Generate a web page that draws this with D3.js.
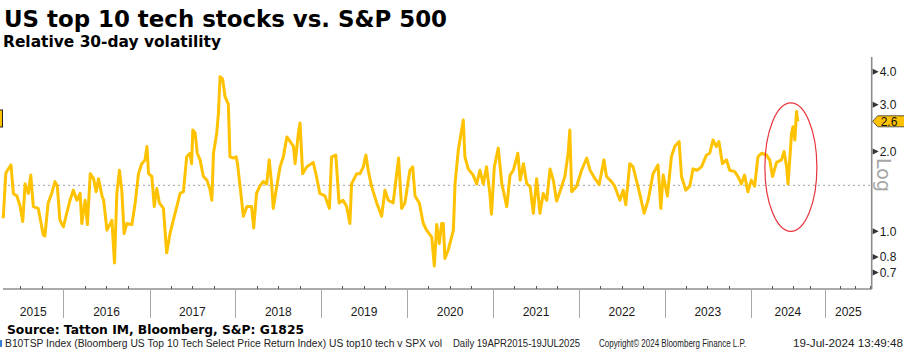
<!DOCTYPE html>
<html>
<head>
<meta charset="utf-8">
<script src="https://cdn.jsdelivr.net/npm/d3@7"></script>
<style>
  html, body { margin: 0; padding: 0; background: #fff; }
  svg { display: block; }
</style>
</head>
<body>
<div id="chart"></div>
<script>
const dates = [
  "2015-04-20","2015-05-01","2015-05-23","2015-06-02","2015-06-17","2015-07-01","2015-07-12","2015-07-22","2015-08-05","2015-08-15",
  "2015-08-26","2015-09-16","2015-10-07","2015-10-14","2015-10-28","2015-11-12","2015-11-26","2015-12-06","2015-12-17","2016-01-01",
  "2016-01-15","2016-01-29","2016-02-12","2016-02-27","2016-03-12","2016-03-19","2016-04-02","2016-04-12","2016-04-24","2016-05-08",
  "2016-05-19","2016-05-29","2016-06-13","2016-06-20","2016-07-04","2016-07-25","2016-08-05","2016-08-15","2016-08-26","2016-09-05",
  "2016-09-15","2016-09-26","2016-10-18","2016-11-01","2016-11-15","2016-11-29","2016-12-13","2016-12-21","2016-12-28","2017-01-11",
  "2017-01-21","2017-02-01","2017-02-12","2017-03-01","2017-03-15","2017-03-29","2017-04-12","2017-04-27","2017-05-11","2017-05-25",
  "2017-06-08","2017-06-22","2017-06-29","2017-07-04","2017-07-14","2017-07-23","2017-08-04","2017-08-18","2017-09-02","2017-09-16",
  "2017-09-23","2017-09-30","2017-10-14","2017-10-21","2017-10-28","2017-11-08","2017-11-18","2017-12-02","2017-12-09","2017-12-23",
  "2018-01-04","2018-01-10","2018-01-21","2018-02-04","2018-02-19","2018-03-11","2018-03-20","2018-04-01","2018-04-15","2018-04-29",
  "2018-05-14","2018-05-25","2018-06-04","2018-06-11","2018-06-26","2018-07-10","2018-07-24","2018-08-08","2018-08-22","2018-09-05",
  "2018-09-12","2018-09-26","2018-10-03","2018-10-14","2018-10-31","2018-11-28","2018-12-12","2018-12-26","2019-01-17","2019-02-05",
  "2019-02-14","2019-03-04","2019-03-18","2019-04-04","2019-04-19","2019-05-03","2019-05-10","2019-06-01","2019-06-15","2019-06-29",
  "2019-07-10","2019-07-20","2019-08-03","2019-08-25","2019-09-15","2019-09-29","2019-10-13","2019-11-03","2019-11-18","2019-11-26",
  "2019-12-09","2019-12-23","2020-01-13","2020-01-25","2020-02-04","2020-02-22","2020-03-10","2020-03-24","2020-04-15","2020-04-26",
  "2020-05-06","2020-05-17","2020-05-27","2020-06-03","2020-06-10","2020-06-24","2020-07-16","2020-07-23","2020-08-06","2020-08-20",
  "2020-08-27","2020-09-03","2020-09-17","2020-10-08","2020-10-23","2020-11-06","2020-11-20","2020-12-04","2020-12-18","2020-12-25",
  "2021-01-06","2021-01-23","2021-02-07","2021-02-28","2021-03-14","2021-03-28","2021-04-16","2021-04-26","2021-05-10","2021-05-24",
  "2021-06-07","2021-06-21","2021-07-05","2021-07-19","2021-08-02","2021-08-17","2021-08-31","2021-09-14","2021-09-28","2021-10-12",
  "2021-11-02","2021-11-16","2021-11-23","2021-12-01","2021-12-22","2022-01-12","2022-02-03","2022-02-17","2022-03-10","2022-03-28",
  "2022-04-17","2022-04-28","2022-05-19","2022-06-02","2022-06-24","2022-07-08","2022-07-19","2022-08-05","2022-08-19","2022-09-02",
  "2022-09-16","2022-10-05","2022-10-22","2022-11-12","2022-12-03","2022-12-15","2022-12-25","2023-01-12","2023-01-29","2023-02-12",
  "2023-03-03","2023-03-13","2023-03-31","2023-04-17","2023-05-01","2023-05-18","2023-06-06","2023-06-27","2023-07-11","2023-07-25",
  "2023-08-08","2023-08-19","2023-09-03","2023-09-20","2023-10-04","2023-10-25","2023-11-08","2023-11-23","2023-12-06","2023-12-20",
  "2024-01-04","2024-01-18","2024-02-01","2024-02-16","2024-03-08","2024-03-22","2024-04-03","2024-04-20","2024-05-11","2024-05-22",
  "2024-06-02","2024-06-08","2024-06-23","2024-06-29","2024-07-07","2024-07-14","2024-07-19"
];

const relVol = [
  1.12,1.66,1.78,1.39,1.36,1.24,1.09,1.51,1.39,1.63,
  1.24,1.22,0.97,0.96,1.28,1.39,1.54,1.48,1.10,1.04,
  1.17,1.31,1.43,1.31,1.39,1.07,1.31,1.06,1.65,1.58,
  1.41,1.58,1.36,1.31,1.01,1.10,0.76,1.39,1.70,1.43,
  0.98,1.07,1.06,1.28,1.65,1.80,1.86,2.09,1.65,1.61,
  1.24,1.45,1.28,1.22,0.83,0.98,1.10,1.24,1.39,1.41,
  1.91,1.97,1.80,2.41,2.35,1.97,1.86,1.61,1.56,1.43,
  1.31,1.97,2.35,2.79,3.83,3.75,3.22,3.02,1.91,1.89,
  1.91,1.80,1.48,1.14,1.24,1.24,1.03,1.39,1.48,1.54,
  1.51,1.86,1.51,1.22,1.48,1.75,1.91,2.27,2.18,2.09,
  1.80,2.35,2.56,1.65,1.75,1.82,1.61,1.39,1.36,1.22,
  1.91,1.94,1.28,1.31,1.24,1.07,1.51,1.65,1.65,1.75,
  1.94,1.70,1.48,1.28,1.14,1.43,1.31,1.28,1.65,1.89,
  1.22,1.28,1.70,1.75,1.36,1.28,1.07,1.01,0.95,0.74,
  1.06,0.90,1.07,1.07,0.79,0.85,1.01,1.51,2.03,2.41,
  2.63,1.91,1.72,1.63,1.51,1.70,1.51,1.75,1.39,1.16,
  1.75,2.06,1.51,1.24,1.63,1.70,1.97,1.56,1.80,1.51,
  1.48,1.17,1.58,1.17,1.39,1.31,1.72,1.56,1.30,1.41,
  1.61,1.97,2.41,1.41,1.48,1.70,1.89,1.70,1.58,1.50,
  1.86,1.61,1.54,1.48,1.31,1.43,1.26,1.80,1.75,1.56,
  1.39,1.17,1.31,1.65,1.78,1.22,1.63,1.36,1.91,2.09,
  2.18,1.61,1.43,1.48,1.72,1.70,1.75,1.94,1.97,2.21,
  2.09,2.18,1.80,1.86,1.70,1.68,1.61,1.51,1.63,1.41,
  1.56,1.48,1.91,1.97,1.94,1.86,1.61,1.82,1.86,2.00,
  1.75,1.51,2.35,2.48,2.21,2.83,2.60
];

const yTicks = [0.7, 0.8, 1.0, 2.0, 3.0, 4.0];
const years = [2015, 2016, 2017, 2018, 2019, 2020, 2021, 2022, 2023, 2024, 2025];
const meanLevel = 1.49;
const lastValue = 2.6;

const title = "US top 10 tech stocks vs. S&P 500";
const subtitle = "Relative 30-day volatility";
const source = "Source: Tatton IM, Bloomberg, S&P: G1825";
const footer = [
  "B10TSP Index (Bloomberg US Top 10 Tech Select Price Return Index) US top10 tech v SPX vol",
  "Daily 19APR2015-19JUL2025",
  "Copyright\u00a9 2024 Bloomberg Finance L.P.",
  "19-Jul-2024 13:49:48"
];

const width = 904, height = 352;
const parse = d3.timeParse("%Y-%m-%d");
const data = dates.map((d, i) => ({ date: parse(d), value: relVol[i] }));

const svg = d3.select("#chart").append("svg")
  .attr("width", width).attr("height", height)
  .attr("viewBox", `0 0 ${width} ${height}`);

// Bloomberg compresses the empty future stretch after the last data point
const x = d3.scaleTime()
  .domain([parse("2015-04-19"), parse("2024-07-19"), parse("2025-10-12")])
  .range([3, 797.7, 871.7]);

const y = d3.scaleLog()
  .domain([0.606, 4.545])
  .range([289, 57]);

const axisX = 871.7, baseY = 289;
const gold = "#ffc200";

// mean dotted line
svg.append("line")
  .attr("x1", 3).attr("x2", axisX)
  .attr("y1", y(meanLevel)).attr("y2", y(meanLevel))
  .attr("stroke", "#b4b4b4").attr("stroke-width", 1.3)
  .attr("stroke-dasharray", "2,3");

// series
svg.append("path")
  .datum(data)
  .attr("fill", "none")
  .attr("stroke", gold)
  .attr("stroke-width", 3)
  .attr("stroke-linejoin", "round")
  .attr("d", d3.line().x(d => x(d.date)).y(d => y(d.value)));

// red ellipse annotation
const ex = x(parse("2024-06-20"));
svg.append("ellipse")
  .attr("cx", ex)
  .attr("cy", (y(1.0) + y(3.05)) / 2)
  .attr("rx", 26)
  .attr("ry", (y(1.0) - y(3.05)) / 2)
  .attr("fill", "none")
  .attr("stroke", "#e8343c")
  .attr("stroke-width", 1.2);

// x axis
svg.append("line")
  .attr("x1", 3).attr("x2", axisX)
  .attr("y1", baseY).attr("y2", baseY)
  .attr("stroke", "#555").attr("stroke-width", 1);

const [d0, d1] = [x.domain()[0], x.domain()[2]];
const quarters = d3.timeMonth.every(3).range(d0, d1).filter(d => d.getMonth() !== 0);
svg.append("g").selectAll("line")
  .data(quarters)
  .join("line")
  .attr("x1", d => Math.round(x(d)) + 0.5).attr("x2", d => Math.round(x(d)) + 0.5)
  .attr("y1", baseY - 3).attr("y2", baseY)
  .attr("stroke", "#555");

const yearStarts = years.map(yr => new Date(yr, 0, 1));
svg.append("g").selectAll("line")
  .data(yearStarts.filter(d => d > d0))
  .join("line")
  .attr("x1", d => Math.round(x(d)) + 0.5).attr("x2", d => Math.round(x(d)) + 0.5)
  .attr("y1", baseY).attr("y2", 318)
  .attr("stroke", "#a8a8a8");

svg.append("g").selectAll("text")
  .data(years)
  .join("text")
  .attr("x", yr => {
    const a = Math.max(x(new Date(yr, 0, 1)), x.range()[0]);
    const b = Math.min(x(new Date(yr + 1, 0, 1)), axisX);
    return (a + b) / 2;
  })
  .attr("y", 316)
  .attr("text-anchor", "middle")
  .attr("font-family", "Liberation Sans, Arial, sans-serif")
  .attr("font-size", 12)
  .attr("fill", "#1a1a1a")
  .text(d => d);

// right y axis
svg.append("line")
  .attr("x1", axisX).attr("x2", axisX)
  .attr("y1", 57).attr("y2", baseY)
  .attr("stroke", "#8c8c8c").attr("stroke-width", 1.6);

const yt = svg.append("g").selectAll("g")
  .data(yTicks)
  .join("g")
  .attr("transform", d => `translate(${axisX},${y(d)})`);
yt.append("path")
  .attr("d", "M1,-3L7,0L1,3Z")
  .attr("fill", "#333");
yt.append("text")
  .attr("x", 8)
  .attr("dy", "0.36em")
  .attr("font-family", "Liberation Sans, Arial, sans-serif")
  .attr("font-size", 12)
  .attr("fill", "#1a1a1a")
  .text(d => d3.format(".1f")(d));

// "Log" label
svg.append("text")
  .attr("transform", `translate(884,175) rotate(90)`)
  .attr("text-anchor", "middle")
  .attr("dy", "0.35em")
  .attr("font-family", "DejaVu Sans, sans-serif")
  .attr("font-size", 19)
  .attr("fill", "#a6a6a6")
  .text("Log");

// last value tag
const ly = y(lastValue);
svg.append("path")
  .attr("d", `M${axisX + 1},${ly} L${axisX + 6},${ly - 5.5} L${width + 2},${ly - 5.5} L${width + 2},${ly + 5.5} L${axisX + 6},${ly + 5.5} Z`)
  .attr("fill", gold)
  .attr("stroke", "#333")
  .attr("stroke-width", 0.8);
svg.append("text")
  .attr("x", axisX + 9).attr("y", ly)
  .attr("dy", "0.36em")
  .attr("font-family", "Liberation Sans, Arial, sans-serif")
  .attr("font-size", 12)
  .attr("fill", "#111")
  .text(d3.format(".1f")(lastValue));

// cut-off legend marks at the left edge
svg.append("rect")
  .attr("x", -2).attr("y", 110).attr("width", 4.5).attr("height", 17)
  .attr("fill", gold).attr("stroke", "#222").attr("stroke-width", 1);
svg.append("rect")
  .attr("x", 0).attr("y", 340).attr("width", 2).attr("height", 7)
  .attr("fill", "#3b7fd1");

// titles
function addText(txt, xPos, yPos, size, weight, family, fill, len) {
  const t = svg.append("text")
    .attr("x", xPos).attr("y", yPos)
    .attr("font-family", family)
    .attr("font-size", size)
    .attr("font-weight", weight)
    .attr("fill", fill)
    .text(txt);
  if (len) t.attr("textLength", len).attr("lengthAdjust", "spacingAndGlyphs");
  return t;
}

addText(title, 4, 27, 23, "bold", "DejaVu Sans, Verdana, sans-serif", "#000", 443);
addText(subtitle, 3, 46.5, 16, "bold", "DejaVu Sans, Verdana, sans-serif", "#000", 218);
addText(source, 7, 333.5, 12.5, "bold", "DejaVu Sans, Verdana, sans-serif", "#000", 297);

const footX = [5, 453, 599, 793];
const footW = [437, 127, 147, 110];
const footSize = [10, 10, 10, 11];
footer.forEach((f, i) => addText(f, footX[i], 347, footSize[i], "normal", "Liberation Sans, Arial, sans-serif", "#222", footW[i]));
</script>
</body>
</html>
